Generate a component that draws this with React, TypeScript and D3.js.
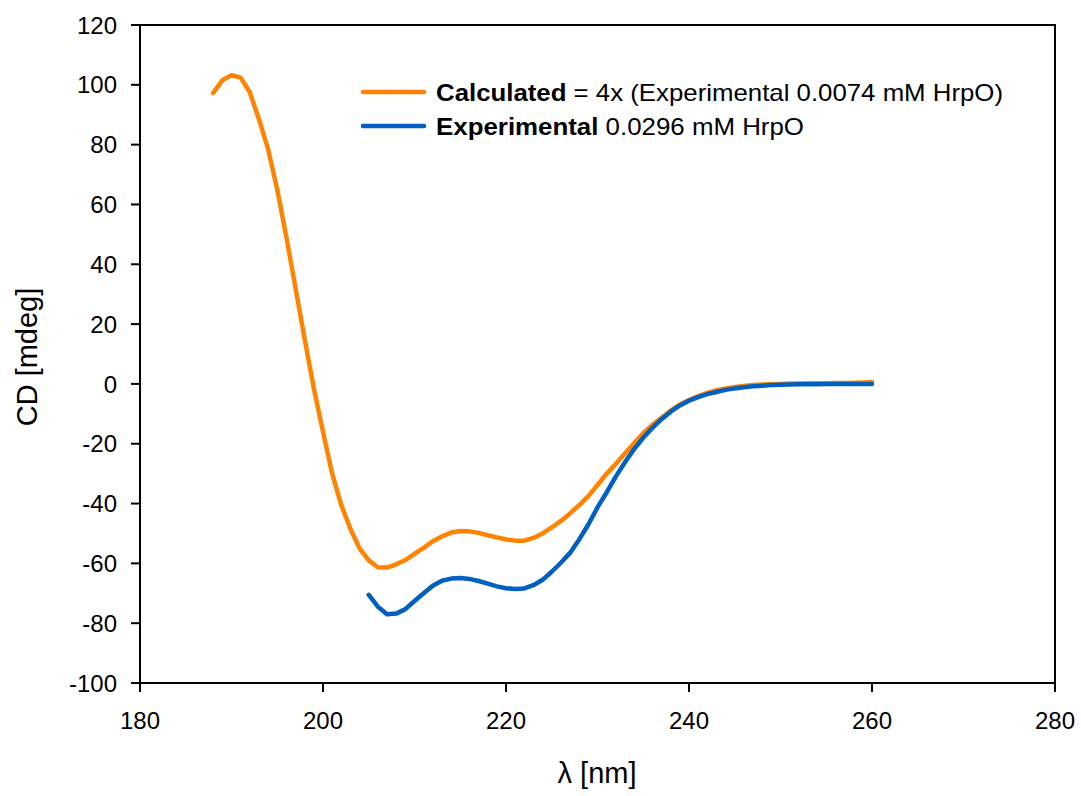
import React from 'react';
import * as d3 from 'd3';

// Calculated = 4x (Experimental 0.0074 mM HrpO)
const calcWavelength = [
  188, 189, 190, 191, 192, 193, 194, 195, 196, 197, 198, 199, 200, 201, 202, 203, 204, 205, 206, 207,
  208, 209, 210, 211, 212, 213, 214, 215, 216, 217, 218, 219, 220, 221, 222, 223, 224, 225, 226, 227,
  228, 229, 230, 231, 232, 233, 234, 235, 236, 237, 238, 239, 240, 241, 242, 243, 244, 245, 246, 247,
  248, 249, 250, 251, 252, 253, 254, 255, 256, 257, 258, 259, 260,
];
const calcCD = [
  97.3, 101.5, 103.2, 102.4, 97.5, 88.5, 78.5, 65, 49, 32, 15, -1.5, -16, -30, -40.5, -48.5, -55, -59, -61.3, -61.4,
  -60.3, -58.9, -56.8, -54.8, -52.6, -51, -49.7, -49.2, -49.3, -49.8, -50.6, -51.3, -52, -52.4, -52.4, -51.5, -50, -48, -45.8, -43.3,
  -40.5, -37.5, -33.8, -30, -26.8, -23.3, -19.8, -16.5, -13.7, -11.3, -8.9, -6.9, -5.4, -4.1, -3.0, -2.1, -1.5, -1.0, -0.7, -0.4,
  -0.2, -0.1, 0, 0.1, 0.1, 0.2, 0.2, 0.2, 0.3, 0.3, 0.4, 0.5, 0.6,
];

// Experimental 0.0296 mM HrpO
const expWavelength = [
  205, 206, 207, 208, 209, 210, 211, 212, 213, 214, 215, 216, 217, 218, 219, 220, 221, 222, 223, 224,
  225, 226, 227, 228, 229, 230, 231, 232, 233, 234, 235, 236, 237, 238, 239, 240, 241, 242, 243, 244,
  245, 246, 247, 248, 249, 250, 251, 252, 253, 254, 255, 256, 257, 258, 259, 260,
];
const expCD = [
  -70.5, -74.5, -77, -76.8, -75.3, -72.6, -70, -67.5, -65.8, -65.1, -64.9, -65.2, -65.9, -66.8, -67.7, -68.3, -68.6, -68.4, -67.3, -65.5,
  -62.8, -59.8, -56.5, -52, -47, -41.3, -36.3, -31, -26.2, -21.8, -18, -14.7, -11.8, -9.3, -7.2, -5.6, -4.4, -3.4, -2.7, -2.0,
  -1.5, -1.1, -0.8, -0.6, -0.4, -0.3, -0.2, -0.1, -0.1, -0.1, 0, 0, 0, 0, 0, 0,
];

const xTicks = [180, 200, 220, 240, 260, 280];
const yTicks = [-100, -80, -60, -40, -20, 0, 20, 40, 60, 80, 100, 120];

const ORANGE = '#FF8300';
const BLUE = '#0060BF';
const FONT = '"Liberation Sans", Arial, sans-serif';

const W = 1081;
const H = 796;
const margin = { left: 140, top: 25, right: 26, bottom: 113 };

const App = () => {
  const x = d3.scaleLinear().domain([180, 280]).range([margin.left, W - margin.right]);
  const y = d3.scaleLinear().domain([-100, 120]).range([H - margin.bottom, margin.top]);

  const line = d3.line<[number, number]>()
    .x(d => x(d[0]))
    .y(d => y(d[1]));

  const calcPts = calcWavelength.map((w, i) => [w, calcCD[i]] as [number, number]);
  const expPts = expWavelength.map((w, i) => [w, expCD[i]] as [number, number]);

  const x0 = x(180), x1 = x(280), y0 = y(-100), y1 = y(120);

  return (
    <svg width={W} height={H} style={{ position: 'absolute', left: 0, top: 0 }} fontFamily={FONT}>
      <rect x={0} y={0} width={W} height={H} fill="#fff" />
      {/* frame */}
      <rect x={x0} y={y1} width={x1 - x0} height={y0 - y1} fill="none" stroke="#000" strokeWidth={2} />

      {/* y ticks */}
      {yTicks.map(t => (
        <g key={'y' + t}>
          <line x1={x0 - 9} x2={x0} y1={y(t)} y2={y(t)} stroke="#000" strokeWidth={2} />
          <text x={x0 - 23} y={y(t)} dy="0.36em" textAnchor="end" fontSize={24} fill="#000">{t}</text>
        </g>
      ))}

      {/* x ticks */}
      {xTicks.map(t => (
        <g key={'x' + t}>
          <line x1={x(t)} x2={x(t)} y1={y0} y2={y0 + 9} stroke="#000" strokeWidth={2} />
          <text x={x(t)} y={y0 + 46} textAnchor="middle" fontSize={24} fill="#000">{t}</text>
        </g>
      ))}

      {/* axis titles */}
      <text x={597} y={783} textAnchor="middle" fontSize={29} fill="#000">λ [nm]</text>
      <text transform={`translate(37,357) rotate(-90)`} textAnchor="middle" fontSize={29} fill="#000">CD [mdeg]</text>

      {/* series */}
      <path d={line(calcPts) || ''} fill="none" stroke={ORANGE} strokeWidth={4.5} strokeLinejoin="round" strokeLinecap="round" />
      <path d={line(expPts) || ''} fill="none" stroke={BLUE} strokeWidth={4.5} strokeLinejoin="round" strokeLinecap="round" />

      {/* legend */}
      <line x1={363} x2={424} y1={92} y2={92} stroke={ORANGE} strokeWidth={4.5} strokeLinecap="round" />
      <text x={436} y={100.5} fontSize={24} fill="#000" textLength={567} lengthAdjust="spacingAndGlyphs">
        <tspan fontWeight="bold">Calculated</tspan> = 4x (Experimental 0.0074 mM HrpO)
      </text>
      <line x1={363} x2={424} y1={126} y2={126} stroke={BLUE} strokeWidth={4.5} strokeLinecap="round" />
      <text x={436} y={134.5} fontSize={24} fill="#000" textLength={368} lengthAdjust="spacingAndGlyphs">
        <tspan fontWeight="bold">Experimental</tspan> 0.0296 mM HrpO
      </text>
    </svg>
  );
};

export default App;
